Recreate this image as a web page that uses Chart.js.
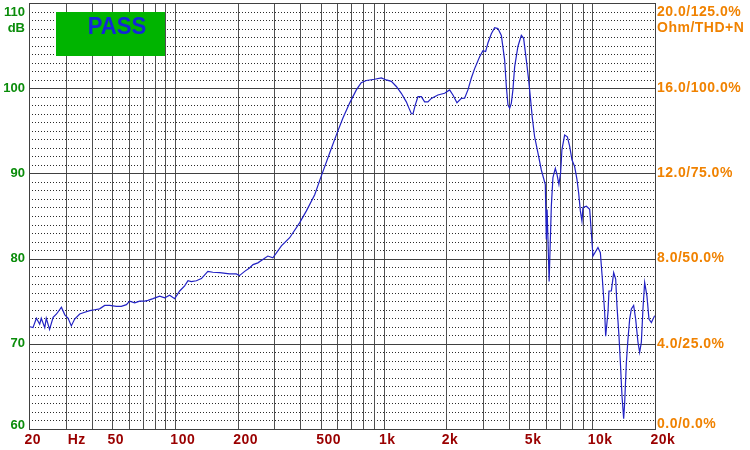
<!DOCTYPE html>
<html><head><meta charset="utf-8">
<script src="https://cdn.jsdelivr.net/npm/chart.js@4.4.0/dist/chart.umd.min.js"></script>
<style>html,body{margin:0;padding:0;background:#fff;}#wrap{width:750px;height:450px;}</style>
</head><body><div id="wrap"><canvas id="c" width="750" height="450"></canvas></div>
<script>
const freqHz = [20.2,20.9,21.7,22.5,22.9,23.8,24.2,25.1,26.1,27.1,28.6,29.7,30.8,31.9,33.1,35.0,37.0,39.1,41.3,43.6,46.1,48.7,52.5,55.4,58.6,60.7,64.2,67.8,71.7,74.3,78.6,84.6,89.4,94.4,99.8,105.5,111.4,115.6,120,126.8,134,144,152,164,183,197,204,216,228,237,250,264,279,295,324,355,396,427,468,500,552,598,639,688,741,782,827,906,976,1031,1090,1152,1217,1286,1324,1360,1385,1420,1462,1518,1574,1632,1695,1822,1962,2074,2151,2249,2361,2447,2538,2636,2733,2888,2995,3086,3165,3286,3408,3534,3670,3806,3878,3947,4022,4098,4170,4250,4406,4576,4693,4835,4959,5070,5166,5298,5495,5705,5962,6028,6082,6218,6371,6484,6658,6777,6928,7060,7162,7379,7603,7798,7999,8240,8453,8613,8776,8933,9033,9379,9727,9910,10087,10658,10944,11188,11476,11604,11904,12036,12358,12676,12960,13146,13440,13648,13892,14154,14312,14582,14842,15122,15408,15802,16156,16572,16886,17204,17512,17842,18302,18710,19212,19924];
const levelDb = [72.0,71.9,73.0,72.3,73.0,71.9,73.0,71.7,73.1,73.5,74.3,73.4,73.0,72.1,72.9,73.5,73.7,73.9,74.0,74.1,74.5,74.5,74.4,74.4,74.6,75.0,74.8,75.0,75.0,75.1,75.3,75.6,75.4,75.7,75.3,76.2,76.8,77.4,77.3,77.4,77.65,78.5,78.4,78.35,78.2,78.2,78.0,78.5,78.9,79.3,79.5,79.9,80.3,80.1,81.5,82.45,84.2,85.6,87.5,89.5,92.4,94.7,96.5,98.25,99.8,100.65,100.9,101.05,101.2,100.97,100.8,100.2,99.4,98.4,97.66,97.0,97.0,98.05,99.0,99.0,98.4,98.4,98.8,99.2,99.4,99.8,99.2,98.3,98.8,98.83,99.8,101.2,102.3,103.7,104.4,104.3,105.3,106.4,107.1,107.0,106.2,103.3,100.2,98.05,97.66,98.25,99.8,102.5,104.9,106.2,105.85,103.3,101.0,98.6,96.5,94.3,92.4,90.4,88.7,82.25,85.76,77.3,86.15,89.5,90.6,89.9,88.7,90.1,92.8,94.5,94.3,93.2,91.6,90.8,89.3,87.7,85.6,84.4,86.0,86.15,85.8,83.0,80.3,81.3,80.7,77.6,73.7,70.9,73.7,76.2,76.2,78.35,77.6,74.45,70.9,67.8,63.9,61.2,63.1,67.8,70.55,72.9,74.1,74.5,72.9,70.2,69.0,70.2,74.1,77.2,75.6,72.9,72.5,73.3];
const xTickValues = [20, 30, 50, 100, 200, 500, 1000, 2000, 5000, 10000, 20000];
const xTickLabels = ['20','Hz','50','100','200','500','1k','2k','5k','10k','20k'];
const yTickValues = [60, 70, 80, 90, 100, 110];
const yTickLabels = ['60','70','80','90','100','110'];
const rightTickLabels = ['0.0/0.0%','4.0/25.0%','8.0/50.0%','12.0/75.0%','16.0/100.0%','20.0/125.0%'];
const yUnit = 'dB';
const rightUnit = 'Ohm/THD+N';
const badgeText = 'PASS';

const gridFreqs = [];
for (let d = 10; d <= 10000; d *= 10) for (let m = 1; m <= 9; m++) { const f = d * m; if (f >= 20 && f <= 20000) gridFreqs.push(f); }
gridFreqs.push(20000);

const px = v => Math.round(v) + 0.5;

const drawPlugin = {
  id: 'ref',
  beforeDatasetsDraw(chart) {
    const ctx = chart.ctx, a = chart.chartArea, xs = chart.scales.x, ys = chart.scales.y;
    ctx.save();
    ctx.fillStyle = '#fff'; ctx.fillRect(0, 0, chart.width, chart.height);
    // minor dotted horizontals every 1 dB
    ctx.strokeStyle = '#2a2a2a'; ctx.lineWidth = 1; ctx.setLineDash([1, 2]);
    for (let v = 61; v < 110; v++) {
      if (v % 10 === 0) continue;
      const y = px(ys.getPixelForValue(v));
      ctx.beginPath(); ctx.moveTo(a.left, y); ctx.lineTo(a.right, y); ctx.stroke();
    }
    ctx.setLineDash([]);
    // vertical grid
    ctx.strokeStyle = '#505050';
    gridFreqs.forEach(f => {
      const x = px(xs.getPixelForValue(f));
      ctx.beginPath(); ctx.moveTo(x, a.top); ctx.lineTo(x, a.bottom); ctx.stroke();
    });
    // major horizontals
    ctx.strokeStyle = '#404040';
    yTickValues.forEach(v => {
      const y = px(ys.getPixelForValue(v));
      ctx.beginPath(); ctx.moveTo(a.left, y); ctx.lineTo(a.right, y); ctx.stroke();
    });
    ctx.strokeRect(px(a.left), px(a.top), Math.round(a.right - a.left), Math.round(a.bottom - a.top));
    // PASS badge
    ctx.fillStyle = '#00b400';
    ctx.fillRect(56, 12, 109, 44);
    ctx.fillStyle = '#1426d8';
    ctx.font = 'bold 24px "Liberation Sans", Arial, sans-serif';
    ctx.textAlign = 'center'; ctx.textBaseline = 'middle';
    ctx.save(); ctx.translate(117, 27); ctx.scale(0.92, 1); ctx.fillText(badgeText, 0, 0); ctx.restore();
    ctx.restore();
  },
  afterDraw(chart) {
    const ctx = chart.ctx, a = chart.chartArea, xs = chart.scales.x, ys = chart.scales.y;
    ctx.save();
    ctx.textBaseline = 'middle';
    // left labels
    ctx.fillStyle = '#0a8c0a';
    ctx.font = 'bold 13px "Liberation Sans", Arial, sans-serif';
    ctx.textAlign = 'right';
    yTickValues.forEach((v, i) => {
      let y = ys.getPixelForValue(v);
      y = Math.min(Math.max(y, 12), 425);
      ctx.fillText(yTickLabels[i], 25, y);
    });
    ctx.fillText(yUnit, 25, 28);
    // right labels
    ctx.fillStyle = '#f08200';
    ctx.font = 'bold 14px "Liberation Sans", Arial, sans-serif';
    ctx.textAlign = 'left';
    try { ctx.letterSpacing = '0.5px'; } catch (e) {}
    yTickValues.forEach((v, i) => {
      let y = ys.getPixelForValue(v);
      y = Math.min(Math.max(y, 12), 424.5);
      ctx.fillText(rightTickLabels[i], a.right + 2, y);
    });
    ctx.fillText(rightUnit, a.right + 2, 28);
    // x labels
    ctx.fillStyle = '#9a0000';
    ctx.font = 'bold 14px "Liberation Sans", Arial, sans-serif';
    try { ctx.letterSpacing = '0.5px'; } catch (e) {}
    xTickValues.forEach((f, i) => {
      const x = xs.getPixelForValue(f);
      const lx = xTickLabels[i] === 'Hz' ? x + 2 : x - 4.5;
      ctx.fillText(xTickLabels[i], lx, 440);
    });
    ctx.restore();
  }
};

new Chart(document.getElementById('c'), {
  type: 'line',
  data: {
    datasets: [{
      data: freqHz.map((f, i) => ({ x: f, y: levelDb[i] })),
      borderColor: '#2222c4',
      borderWidth: 1.2,
      pointRadius: 0,
      tension: 0,
      fill: false
    }]
  },
  options: {
    responsive: false,
    animation: false,
    layout: { padding: { left: 29, top: 3, right: 95, bottom: 21 } },
    plugins: { legend: { display: false }, tooltip: { enabled: false } },
    scales: {
      x: { type: 'logarithmic', min: 20, max: 20000, display: false },
      y: { type: 'linear', min: 60, max: 110, display: false }
    }
  },
  plugins: [drawPlugin]
});
</script></body></html>
